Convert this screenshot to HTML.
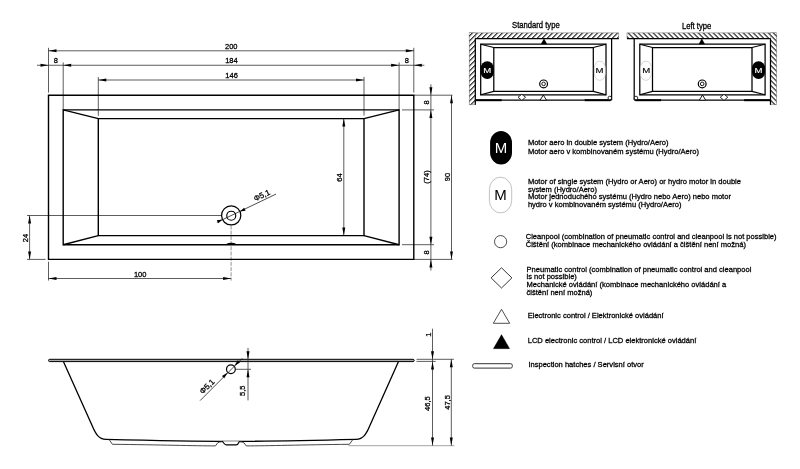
<!DOCTYPE html>
<html><head><meta charset="utf-8"><style>
html,body{margin:0;padding:0;background:#fff;width:800px;height:469px;overflow:hidden}
svg{display:block;will-change:transform}
text{font-family:"Liberation Sans",sans-serif;stroke-width:0.28px}
</style></head><body>
<svg width="800" height="469" viewBox="0 0 800 469">
<defs>
<pattern id="hatch" patternUnits="userSpaceOnUse" width="3.54" height="5" patternTransform="rotate(45 469 33)">
<rect x="0" y="0" width="3.54" height="5" fill="#fff"/><rect x="0" y="0" width="1.1" height="5" fill="#111"/>
</pattern>
</defs>
<line x1="48.5" y1="47.8" x2="48.5" y2="92.6" stroke="#333" stroke-width="0.8"/>
<line x1="63.2" y1="62.4" x2="63.2" y2="109.9" stroke="#333" stroke-width="0.8"/>
<line x1="98.3" y1="77" x2="98.3" y2="115.8" stroke="#333" stroke-width="0.8"/>
<line x1="413.8" y1="47.8" x2="413.8" y2="92.6" stroke="#333" stroke-width="0.8"/>
<line x1="399.1" y1="62.4" x2="399.1" y2="109.9" stroke="#333" stroke-width="0.8"/>
<line x1="364" y1="77" x2="364" y2="115.6" stroke="#333" stroke-width="0.8"/>
<line x1="48.5" y1="50.8" x2="413.8" y2="50.8" stroke="#333" stroke-width="0.8"/>
<polygon points="48.5,50.8 56.5,49.3 56.5,52.3" fill="#000"/>
<polygon points="413.8,50.8 405.8,52.3 405.8,49.3" fill="#000"/>
<line x1="37" y1="65.25" x2="424.4" y2="65.25" stroke="#333" stroke-width="0.8"/>
<polygon points="63.2,65.25 71.2,63.75 71.2,66.75" fill="#000"/>
<polygon points="399.1,65.25 391.1,66.75 391.1,63.75" fill="#000"/>
<polygon points="48.5,65.25 40.5,66.75 40.5,63.75" fill="#000"/>
<polygon points="413.8,65.25 421.8,63.75 421.8,66.75" fill="#000"/>
<line x1="98.3" y1="80" x2="364" y2="80" stroke="#333" stroke-width="0.8"/>
<polygon points="98.3,80 106.3,78.5 106.3,81.5" fill="#000"/>
<polygon points="364,80 356,81.5 356,78.5" fill="#000"/>
<text x="231.3" y="49" font-size="7.5" text-anchor="middle" fill="#000" stroke="#000">200</text>
<text x="231.4" y="63.2" font-size="7.5" text-anchor="middle" fill="#000" stroke="#000">184</text>
<text x="231.6" y="77.9" font-size="7.5" text-anchor="middle" fill="#000" stroke="#000">146</text>
<text x="55.9" y="63.3" font-size="7.5" text-anchor="middle" fill="#000" stroke="#000">8</text>
<text x="406.8" y="63.3" font-size="7.5" text-anchor="middle" fill="#000" stroke="#000">8</text>
<line x1="414" y1="95.2" x2="452.5" y2="95.2" stroke="#333" stroke-width="0.8"/>
<line x1="402" y1="109.9" x2="434" y2="109.9" stroke="#333" stroke-width="0.8"/>
<line x1="402" y1="244.7" x2="434" y2="244.7" stroke="#333" stroke-width="0.8"/>
<line x1="414" y1="259.4" x2="452.5" y2="259.4" stroke="#333" stroke-width="0.8"/>
<line x1="430.9" y1="84.3" x2="430.9" y2="270.5" stroke="#333" stroke-width="0.8"/>
<polygon points="430.9,95.2 429.4,87.2 432.4,87.2" fill="#000"/>
<polygon points="430.9,109.9 432.4,117.9 429.4,117.9" fill="#000"/>
<polygon points="430.9,244.7 429.4,236.7 432.4,236.7" fill="#000"/>
<polygon points="430.9,259.4 432.4,267.4 429.4,267.4" fill="#000"/>
<line x1="451.5" y1="95.2" x2="451.5" y2="259.4" stroke="#333" stroke-width="0.8"/>
<polygon points="451.5,95.2 453,103.2 450,103.2" fill="#000"/>
<polygon points="451.5,259.4 450,251.4 453,251.4" fill="#000"/>
<text x="429" y="102.5" font-size="7.5" text-anchor="middle" fill="#000" stroke="#000" transform="rotate(-90 429 102.5)">8</text>
<text x="429" y="177" font-size="7.5" text-anchor="middle" fill="#000" stroke="#000" transform="rotate(-90 429 177)">(74)</text>
<text x="429" y="252.4" font-size="7.5" text-anchor="middle" fill="#000" stroke="#000" transform="rotate(-90 429 252.4)">8</text>
<text x="450" y="177.1" font-size="7.5" text-anchor="middle" fill="#000" stroke="#000" transform="rotate(-90 450 177.1)">90</text>
<line x1="27" y1="215.5" x2="221.5" y2="215.5" stroke="#333" stroke-width="0.8"/>
<line x1="27" y1="259.4" x2="45.6" y2="259.4" stroke="#333" stroke-width="0.8"/>
<line x1="29.6" y1="215.5" x2="29.6" y2="259.4" stroke="#333" stroke-width="0.8"/>
<polygon points="29.6,215.5 31.1,223.5 28.1,223.5" fill="#000"/>
<polygon points="29.6,259.4 28.1,251.4 31.1,251.4" fill="#000"/>
<text x="28" y="238" font-size="7.5" text-anchor="middle" fill="#000" stroke="#000" transform="rotate(-90 28 238)">24</text>
<line x1="343.8" y1="118.6" x2="343.8" y2="235.6" stroke="#333" stroke-width="0.8"/>
<polygon points="343.8,118.6 345.3,126.6 342.3,126.6" fill="#000"/>
<polygon points="343.8,235.6 342.3,227.6 345.3,227.6" fill="#000"/>
<text x="341.7" y="177.6" font-size="7.5" text-anchor="middle" fill="#000" stroke="#000" transform="rotate(-90 341.7 177.6)">64</text>
<line x1="48.5" y1="261.7" x2="48.5" y2="280.5" stroke="#333" stroke-width="0.8"/>
<line x1="231.1" y1="225.5" x2="231.1" y2="280.6" stroke="#666" stroke-width="0.7" stroke-dasharray="4,1.2"/>
<line x1="48.5" y1="278.5" x2="231.1" y2="278.5" stroke="#333" stroke-width="0.8"/>
<polygon points="48.5,278.5 56.5,277 56.5,280" fill="#000"/>
<polygon points="231.1,278.5 223.1,280 223.1,277" fill="#000"/>
<text x="140.2" y="276.7" font-size="7.5" text-anchor="middle" fill="#000" stroke="#000">100</text>
<polygon points="48.5,95.2 413.8,95.2 413.8,259.4 48.5,259.4" fill="none" stroke="#000" stroke-width="1.4"/>
<polygon points="63.2,109.9 399.1,109.9 399.1,244.7 63.2,244.7" fill="none" stroke="#000" stroke-width="1.4"/>
<polygon points="98.3,118.6 364,118.6 364,235.6 98.3,235.6" fill="none" stroke="#000" stroke-width="1.4"/>
<line x1="63.2" y1="109.9" x2="98.3" y2="118.6" stroke="#000" stroke-width="1.4"/>
<line x1="399.1" y1="109.9" x2="364" y2="118.6" stroke="#000" stroke-width="1.4"/>
<line x1="63.2" y1="244.7" x2="98.3" y2="235.6" stroke="#000" stroke-width="1.4"/>
<line x1="399.1" y1="244.7" x2="364" y2="235.6" stroke="#000" stroke-width="1.4"/>
<path d="M226,244.7 Q231.1,242.2 236.6,244.7" fill="none" stroke="#000" stroke-width="1.2"/>
<circle cx="231.2" cy="215.4" r="9.6" fill="none" stroke="#000" stroke-width="1.25"/>
<circle cx="231.25" cy="215.7" r="4.5" fill="none" stroke="#000" stroke-width="1.15"/>
<line x1="216.9" y1="222.4" x2="276" y2="194.1" stroke="#111" stroke-width="0.75"/>
<polygon points="222.5,219.5 218.23,223.36 216.8,220.27" fill="#000"/>
<polygon points="239.9,211.5 244.17,207.64 245.6,210.73" fill="#000"/>
<text x="262.9" y="197.8" font-size="7.8" text-anchor="middle" fill="#000" stroke="#000" transform="rotate(-24.9 262.9 197.8)">Φ5,1</text>
<rect x="48.5" y="359.3" width="365.7" height="2.3" rx="1.15" fill="#aaa" stroke="#000" stroke-width="1.0"/>
<path d="M63.5,361.8 L92.2,425.8 C95.3,433.2 98.5,439.3 106,439.4 C150,440.5 190,441.35 231,441.35 C272,441.35 312,440.5 356,439.4 C363.5,439.3 366.7,433.2 369.8,425.8 L398.4,361.8" fill="none" stroke="#000" stroke-width="1.3"/>
<path d="M109,439.4 L112.4,444.3 C160,444.8 195,445.9 215.5,445.9 L217.6,442.9 Q219,441.9 222.1,441.7 M239.6,441.7 Q242.7,441.9 244.1,442.9 L246.2,445.9 C267,445.9 302,444.8 349.4,444.3 L352.8,439.6" fill="none" stroke="#333" stroke-width="0.9"/>
<path d="M222.1,441.25 C223.8,442.5 224.3,444.8 226.2,444.8 L236.3,444.8 C238.2,444.8 238.7,442.5 239.4,441.25" fill="#fff" stroke="#000" stroke-width="1.2"/>
<line x1="348.5" y1="445.7" x2="454.3" y2="445.7" stroke="#999" stroke-width="0.9"/>
<line x1="416.5" y1="359.3" x2="453.8" y2="359.3" stroke="#333" stroke-width="0.8"/>
<line x1="416.5" y1="361.4" x2="435.7" y2="361.4" stroke="#333" stroke-width="0.8"/>
<line x1="432.5" y1="328.7" x2="432.5" y2="445.6" stroke="#333" stroke-width="0.8"/>
<polygon points="432.5,359.3 431,351.3 434,351.3" fill="#000"/>
<polygon points="432.5,361.4 434,369.4 431,369.4" fill="#000"/>
<polygon points="432.5,445.6 431,437.6 434,437.6" fill="#000"/>
<line x1="451.3" y1="359.3" x2="451.3" y2="445.6" stroke="#333" stroke-width="0.8"/>
<polygon points="451.3,359.3 452.8,367.3 449.8,367.3" fill="#000"/>
<polygon points="451.3,445.6 449.8,437.6 452.8,437.6" fill="#000"/>
<text x="431" y="334.6" font-size="7.5" text-anchor="middle" fill="#000" stroke="#000" transform="rotate(-90 431 334.6)">1</text>
<text x="430.5" y="403.6" font-size="7.5" text-anchor="middle" fill="#000" stroke="#000" transform="rotate(-90 430.5 403.6)">46,5</text>
<text x="449.6" y="402.4" font-size="7.5" text-anchor="middle" fill="#000" stroke="#000" transform="rotate(-90 449.6 402.4)">47,5</text>
<circle cx="230.9" cy="369.25" r="4.4" fill="none" stroke="#000" stroke-width="1.2"/>
<line x1="200.1" y1="400.6" x2="242.2" y2="358.4" stroke="#111" stroke-width="0.75"/>
<polygon points="227.7,372.5 224.24,378.23 221.97,375.96" fill="#000"/>
<polygon points="234.3,366 237.76,360.27 240.03,362.54" fill="#000"/>
<line x1="236" y1="369.3" x2="251" y2="369.3" stroke="#333" stroke-width="0.8"/>
<line x1="248" y1="347.9" x2="248" y2="400.4" stroke="#333" stroke-width="0.8"/>
<polygon points="248,359.3 246.5,351.3 249.5,351.3" fill="#000"/>
<polygon points="248,369.3 249.5,377.3 246.5,377.3" fill="#000"/>
<text x="245.5" y="390.7" font-size="7.5" text-anchor="middle" fill="#000" stroke="#000" transform="rotate(-90 245.5 390.7)">5,5</text>
<text x="208.9" y="388.4" font-size="7.9" text-anchor="middle" fill="#000" stroke="#000" transform="rotate(-45 208.9 388.4)">Φ5,1</text>
<g><rect x="469.2" y="32.9" width="149.6" height="5.6" fill="url(#hatch)" stroke="#666" stroke-width="0.5"/><rect x="469.2" y="32.9" width="6.1" height="71.9" fill="url(#hatch)" stroke="#666" stroke-width="0.5"/><rect x="469.5" y="33.2" width="5.6" height="5.2" fill="url(#hatch)"/><line x1="475.3" y1="38.5" x2="618.8" y2="38.5" stroke="#000" stroke-width="1.25"/><line x1="475.3" y1="38.5" x2="475.3" y2="104.8" stroke="#000" stroke-width="1.25"/><line x1="611.6" y1="38.5" x2="611.6" y2="100" stroke="#000" stroke-width="1.25"/><line x1="475.3" y1="100" x2="611.6" y2="100" stroke="#000" stroke-width="1.25"/><polygon points="480.7,44.2 606,44.2 606,94.8 480.7,94.8" fill="none" stroke="#000" stroke-width="1.25"/><polygon points="493.8,47.5 593.3,47.5 593.3,91.4 493.8,91.4" fill="none" stroke="#000" stroke-width="1.25"/><line x1="480.7" y1="44.2" x2="493.8" y2="47.5" stroke="#000" stroke-width="1.1"/><line x1="606" y1="44.2" x2="593.3" y2="47.5" stroke="#000" stroke-width="1.1"/><line x1="480.7" y1="94.8" x2="493.8" y2="91.4" stroke="#000" stroke-width="1.1"/><line x1="606" y1="94.8" x2="593.3" y2="91.4" stroke="#000" stroke-width="1.1"/><line x1="475.6" y1="100.2" x2="501.7" y2="100.2" stroke="#000" stroke-width="2.0"/><line x1="584.7" y1="100.2" x2="610.5" y2="100.2" stroke="#000" stroke-width="2.0"/><rect x="480.7" y="61.3" width="13.1" height="17.7" rx="6.5" ry="7" fill="#000"/><rect x="594.4" y="61.2" width="10.9" height="19.1" rx="5.4" ry="6.5" fill="#fff" stroke="#bbb" stroke-width="0.6"/><circle cx="543.6" cy="83.9" r="3.9" fill="none" stroke="#000" stroke-width="1.2"/><circle cx="543.6" cy="83.9" r="1.8" fill="none" stroke="#000" stroke-width="0.9"/><polygon points="544,38.7 546.9,44.1 541.1,44.1" fill="#000" stroke="#000" stroke-width="0.3"/><polygon points="521.8,94.3 525.6,97.3 521.8,100.3 518,97.3" fill="#fff" stroke="#000" stroke-width="0.8"/><polygon points="543.3,95 546.5,100.2 540.1,100.2" fill="#fff" stroke="#000" stroke-width="0.9"/><circle cx="609.8" cy="98.0" r="1.8" fill="#fff" stroke="#000" stroke-width="0.8"/></g>
<g transform="translate(1245.8,0) scale(-1,1)"><rect x="469.2" y="32.9" width="149.6" height="5.6" fill="url(#hatch)" stroke="#666" stroke-width="0.5"/><rect x="469.2" y="32.9" width="6.1" height="71.9" fill="url(#hatch)" stroke="#666" stroke-width="0.5"/><rect x="469.5" y="33.2" width="5.6" height="5.2" fill="url(#hatch)"/><line x1="475.3" y1="38.5" x2="618.8" y2="38.5" stroke="#000" stroke-width="1.25"/><line x1="475.3" y1="38.5" x2="475.3" y2="104.8" stroke="#000" stroke-width="1.25"/><line x1="611.6" y1="38.5" x2="611.6" y2="100" stroke="#000" stroke-width="1.25"/><line x1="475.3" y1="100" x2="611.6" y2="100" stroke="#000" stroke-width="1.25"/><polygon points="480.7,44.2 606,44.2 606,94.8 480.7,94.8" fill="none" stroke="#000" stroke-width="1.25"/><polygon points="493.8,47.5 593.3,47.5 593.3,91.4 493.8,91.4" fill="none" stroke="#000" stroke-width="1.25"/><line x1="480.7" y1="44.2" x2="493.8" y2="47.5" stroke="#000" stroke-width="1.1"/><line x1="606" y1="44.2" x2="593.3" y2="47.5" stroke="#000" stroke-width="1.1"/><line x1="480.7" y1="94.8" x2="493.8" y2="91.4" stroke="#000" stroke-width="1.1"/><line x1="606" y1="94.8" x2="593.3" y2="91.4" stroke="#000" stroke-width="1.1"/><line x1="475.6" y1="100.2" x2="501.7" y2="100.2" stroke="#000" stroke-width="2.0"/><line x1="584.7" y1="100.2" x2="610.5" y2="100.2" stroke="#000" stroke-width="2.0"/><rect x="480.7" y="61.3" width="13.1" height="17.7" rx="6.5" ry="7" fill="#000"/><rect x="594.4" y="61.2" width="10.9" height="19.1" rx="5.4" ry="6.5" fill="#fff" stroke="#bbb" stroke-width="0.6"/><circle cx="543.6" cy="83.9" r="3.9" fill="none" stroke="#000" stroke-width="1.2"/><circle cx="543.6" cy="83.9" r="1.8" fill="none" stroke="#000" stroke-width="0.9"/><polygon points="544,38.7 546.9,44.1 541.1,44.1" fill="#000" stroke="#000" stroke-width="0.3"/><polygon points="521.8,94.3 525.6,97.3 521.8,100.3 518,97.3" fill="#fff" stroke="#000" stroke-width="0.8"/><polygon points="543.3,95 546.5,100.2 540.1,100.2" fill="#fff" stroke="#000" stroke-width="0.9"/><circle cx="609.8" cy="98.0" r="1.8" fill="#fff" stroke="#000" stroke-width="0.8"/></g>
<text x="0" y="0" font-size="8" text-anchor="middle" fill="#fff" stroke="#fff" style="stroke-width:0.15px" transform="translate(487.3,72.8) scale(1.2,1)">M</text>
<text x="0" y="0" font-size="8" text-anchor="middle" fill="#000" stroke="#000" style="stroke-width:0.15px" transform="translate(599.6,73.2) scale(1.2,1)">M</text>
<text x="0" y="0" font-size="8" text-anchor="middle" fill="#fff" stroke="#fff" style="stroke-width:0.15px" transform="translate(758.5,72.6) scale(1.2,1)">M</text>
<text x="0" y="0" font-size="8" text-anchor="middle" fill="#000" stroke="#000" style="stroke-width:0.15px" transform="translate(646.2,73) scale(1.2,1)">M</text>
<text x="0" y="0" font-size="7.65" fill="#000" stroke="#000" transform="translate(512.1,28.1) scale(1,1.12)">Standard type</text>
<text x="0" y="0" font-size="7.65" fill="#000" stroke="#000" transform="translate(682.0,28.5) scale(1,1.12)">Left type</text>
<rect x="490.1" y="130.9" width="21.9" height="33.5" rx="10.95" ry="12" fill="#000"/>
<text x="501.1" y="152.5" font-size="15" text-anchor="middle" fill="#fff" stroke="#fff" style="stroke-width:0">M</text>
<text x="527.9" y="145.25" font-size="7.55" text-anchor="start" fill="#000" stroke="#000">Motor aero in double system (Hydro/Aero)</text>
<text x="527.9" y="153.5" font-size="7.55" text-anchor="start" fill="#000" stroke="#000">Motor aero v kombinovaném systému (Hydro/Aero)</text>
<rect x="489.4" y="177.2" width="22.3" height="35.7" rx="11.1" ry="12.5" fill="#fff" stroke="#999" stroke-width="0.6"/>
<text x="500.5" y="200.4" font-size="15" text-anchor="middle" fill="#000" stroke="#000" style="stroke-width:0">M</text>
<text x="527.9" y="184" font-size="7.55" text-anchor="start" fill="#000" stroke="#000">Motor of single system (Hydro or Aero) or hydro motor in double</text>
<text x="527.9" y="191.65" font-size="7.55" text-anchor="start" fill="#000" stroke="#000">system (Hydro/Aero)</text>
<text x="527.9" y="199.3" font-size="7.55" text-anchor="start" fill="#000" stroke="#000">Motor jednoduchého systému (Hydro nebo Aero) nebo motor</text>
<text x="527.9" y="206.95" font-size="7.55" text-anchor="start" fill="#000" stroke="#000">hydro v kombinovaném systému (Hydro/Aero)</text>
<circle cx="500.6" cy="241.65" r="6.1" fill="none" stroke="#222" stroke-width="0.8"/>
<text x="525.7" y="239.25" font-size="7.55" text-anchor="start" fill="#000" stroke="#000">Cleanpool (combination of pneumatic control and cleanpool is not possible)</text>
<text x="525.7" y="247.1" font-size="7.55" text-anchor="start" fill="#000" stroke="#000">Čištění (kombinace mechanického ovládání a čištění není možná)</text>
<polygon points="501.5,267.8 511.9,277.9 501.5,288 491.1,277.9" fill="none" stroke="#222" stroke-width="0.9"/>
<text x="526.5" y="271.7" font-size="7.55" text-anchor="start" fill="#000" stroke="#000">Pneumatic control (combination of pneumatic control and cleanpool</text>
<text x="526.5" y="279.4" font-size="7.55" text-anchor="start" fill="#000" stroke="#000">is not possible)</text>
<text x="526.5" y="287.1" font-size="7.55" text-anchor="start" fill="#000" stroke="#000">Mechanické ovládání (kombinace mechanického ovládání a</text>
<text x="526.5" y="294.8" font-size="7.55" text-anchor="start" fill="#000" stroke="#000">čištění není možná)</text>
<polygon points="501.5,309.3 509.7,323.3 493.3,323.3" fill="none" stroke="#222" stroke-width="0.8"/>
<text x="527.7" y="318.4" font-size="7.55" text-anchor="start" fill="#000" stroke="#000">Electronic control / Elektronické ovládání</text>
<polygon points="501.5,334.6 509.7,348.7 493.3,348.7" fill="#000" stroke="#000" stroke-width="0.3"/>
<text x="527.7" y="343.4" font-size="7.55" text-anchor="start" fill="#000" stroke="#000">LCD electronic control / LCD elektronické ovládání</text>
<rect x="472.7" y="363.7" width="39.6" height="4.4" rx="1.6" fill="#fff" stroke="#333" stroke-width="1.0"/>
<text x="528.4" y="367.3" font-size="7.55" text-anchor="start" fill="#000" stroke="#000">Inspection hatches / Servisní otvor</text>
</svg>
</body></html>
